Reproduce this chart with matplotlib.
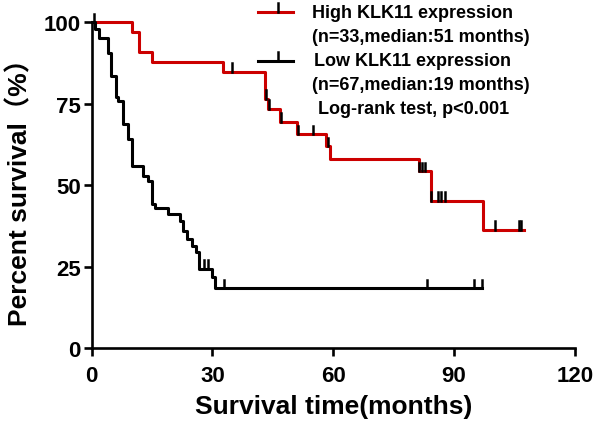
import matplotlib
matplotlib.use("Agg")
import matplotlib.pyplot as plt
from matplotlib.lines import Line2D

# high KLK11 group: step times (months) and survival (%)
high_t = [0, 10.0, 11.8, 14.9, 32.6, 43.1, 43.9, 46.8, 51.0, 58.2, 59.2, 81.3, 84.2, 97.2, 107.3]
high_s = [100, 97.0, 90.9, 87.9, 84.8, 76.5, 73.4, 69.5, 65.7, 62.0, 58.0, 54.2, 45.2, 36.3, 36.3]
high_cens_t = [34.9, 43.3, 44.1, 47.0, 51.2, 55.0, 58.7, 81.3, 82.1, 82.9, 84.4, 86.1, 86.9, 87.7, 100.1, 106.1, 106.7]
high_cens_s = [84.8, 76.5, 73.4, 69.5, 65.7, 65.7, 62.0, 54.2, 54.2, 54.2, 45.2, 45.2, 45.2, 45.2, 36.3, 36.3, 36.3]

# low KLK11 group
low_t = [0, 0.7, 1.7, 4.0, 4.8, 6.0, 6.6, 7.8, 8.9, 9.95, 12.8, 14.1, 14.9, 15.7, 18.9,
         22.0, 22.8, 23.8, 24.9, 25.9, 26.7, 29.8, 30.7, 97.0]
low_s = [100, 97.9, 95.3, 90.7, 83.5, 77.1, 75.7, 68.7, 64.1, 55.9, 52.9, 51.3, 44.2, 42.9, 41.1,
         39.0, 36.0, 33.4, 31.4, 29.5, 24.4, 21.7, 18.4, 18.4]
low_cens_t = [0.5, 27.8, 28.8, 32.9, 83.2, 94.9, 97.0]
low_cens_s = [100, 24.4, 24.4, 18.4, 18.4, 18.4, 18.4]

legend_lines = ["High KLK11 expression", "(n=33,median:51 months)",
                "Low KLK11 expression", "(n=67,median:19 months)",
                "Log-rank test, p<0.001"]
red = "#cc0000"

fonts = ["Liberation Sans", "Noto Sans CJK SC", "DejaVu Sans"]
plt.rcParams["font.family"] = fonts

W, H = 600, 431
fig = plt.figure(figsize=(W / 100, H / 100), dpi=100)
ax = fig.add_axes([91.7 / W, 1 - 349 / H, (574.7 - 91.7) / W, (349 - 23.3) / H])

def fx(px):
    return px / W

def fy(py):
    return 1 - py / H

ax.plot(high_t, high_s, drawstyle="steps-post", color=red, lw=2.2, clip_on=False, zorder=3)
ax.plot(low_t, low_s, drawstyle="steps-post", color="black", lw=2.2, clip_on=False, zorder=3)

# censor ticks, drawn upward from the curve
for t, s in zip(high_cens_t + low_cens_t, high_cens_s + low_cens_s):
    ax.plot([t, t], [s, s + 2.6], color="black", lw=1.8, clip_on=False, zorder=4)

ax.set_xlim(0, 120)
ax.set_ylim(0, 100)
ax.set_xticks([0, 30, 60, 90, 120])
ax.set_yticks([0, 25, 50, 75, 100])
for sp in ["top", "right"]:
    ax.spines[sp].set_visible(False)
for sp in ["left", "bottom"]:
    ax.spines[sp].set_linewidth(1.9)
ax.tick_params(width=1.9, length=6, labelsize=16)
ax.tick_params(axis="x", pad=6)
ax.tick_params(axis="y", pad=2)
for lab in ax.get_xticklabels() + ax.get_yticklabels():
    lab.set_fontweight("bold")

ax.set_xlabel("Survival time(months)", fontsize=19, fontweight="bold", labelpad=6)
ax.set_ylabel("Percent survival（%）", fontsize=19, fontweight="bold", labelpad=8)

# hand-made legend
for y, col in [(12.7, red), (62.3, "black")]:
    fig.add_artist(Line2D([fx(258), fx(293)], [fy(y), fy(y)], color=col, lw=2.2,
                          transform=fig.transFigure))
    fig.add_artist(Line2D([fx(278), fx(278)], [fy(y), fy(y - 9)], color="black", lw=1.8,
                          transform=fig.transFigure))

for txt, x, y in zip(legend_lines, [312, 312, 314, 312, 318], [13, 37, 62, 86, 109]):
    fig.text(fx(x), fy(y), txt, fontsize=13, fontweight="bold", va="center", ha="left")

fig.savefig("out.png", dpi=100)
